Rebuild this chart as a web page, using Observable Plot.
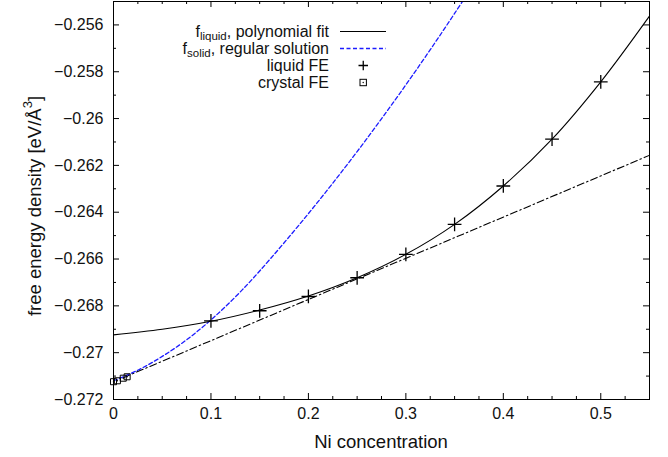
<!DOCTYPE html>
<html><head><meta charset="utf-8">
<script src="https://cdn.jsdelivr.net/npm/d3@7"></script>
<script src="https://cdn.jsdelivr.net/npm/@observablehq/plot@0.6"></script>
<style>body{margin:0;background:#fff;} svg{display:block}</style>
</head><body><div id="chart"></div>
<script>
// ---- data ----
const liquidX  = [0.1, 0.15, 0.2, 0.25, 0.3, 0.35, 0.4, 0.45, 0.5];
const liquidFE = [-0.26864, -0.26821, -0.26760, -0.26680, -0.26580, -0.26452, -0.26288, -0.26088, -0.25843];

const crystalX  = [0, 0.004, 0.01, 0.014];
const crystalFE = [-0.27124, -0.27120, -0.27109, -0.27103];

const fitX = [0, 0.05, 0.1, 0.15, 0.2, 0.25, 0.3, 0.35, 0.4, 0.45, 0.5, 0.55];
const fitY = [-0.26924, -0.26900, -0.26866, -0.26818, -0.26758, -0.26680, -0.26580, -0.26452, -0.26288, -0.26088, -0.25843, -0.25562];

const solidX = [0, 0.025, 0.05, 0.075, 0.1, 0.125, 0.15, 0.2, 0.25, 0.3, 0.35, 0.4];
const solidY = [-0.27120, -0.27075, -0.27016, -0.26945, -0.26860, -0.26762, -0.26651, -0.26406, -0.26141, -0.25856, -0.25551, -0.25226];

const tangentX = [0.01, 0.55];
const tangentY = [-0.27107, -0.26157];

const xTicks = [0, 0.1, 0.2, 0.3, 0.4, 0.5];
const xMinor = [0.025, 0.05, 0.075, 0.125, 0.15, 0.175, 0.225, 0.25, 0.275, 0.325, 0.35, 0.375, 0.425, 0.45, 0.475, 0.525];
const yTicks = [-0.272, -0.27, -0.268, -0.266, -0.264, -0.262, -0.26, -0.258, -0.256];
const yMinor = [-0.271, -0.269, -0.267, -0.265, -0.263, -0.261, -0.259, -0.257, -0.255];

const xLabel = "Ni concentration";
const yLabelMain = "free energy density [eV/Å";
const legendLabels = [
  ["f", "liquid", ", polynomial fit"],
  ["f", "solid", ", regular solution"],
  ["liquid FE", "", ""],
  ["crystal FE", "", ""]
];

// ---- layout ----
const W = 668, H = 457, mL = 113, mR = 19, mT = 1, mB = 58;
const plotW = W - mL - mR, plotH = H - mT - mB;
const FONT = "'Liberation Sans', Arial, Helvetica, sans-serif";
const fmt = d => (d < 0 ? "\u2212" : "") + (+Math.abs(d).toFixed(3));
const pts = (xs, ys) => xs.map((x, i) => ({x, y: ys[i]}));

const chart = Plot.plot({
  width: W, height: H,
  marginLeft: mL, marginRight: mR, marginTop: mT, marginBottom: mB,
  style: {fontFamily: FONT, fontSize: "16px", color: "#111", background: "#fff"},
  x: {domain: [0, 0.55]},
  y: {domain: [-0.272, -0.255]},
  marks: [
    Plot.axisX(xTicks, {tickSize: 0, tickPadding: 8, tickFormat: fmt, fontSize: 16, label: null}),
    Plot.axisY(yTicks, {tickSize: 0, tickPadding: 10, tickFormat: fmt, fontSize: 16, label: null}),
    // inward ticks on all four sides
    Plot.tickX(xTicks, {x: d => d, insetTop: plotH - 6, stroke: "black"}),
    Plot.tickX(xTicks, {x: d => d, insetBottom: plotH - 6, stroke: "black"}),
    Plot.tickX(xMinor, {x: d => d, insetTop: plotH - 3, stroke: "black"}),
    Plot.tickX(xMinor, {x: d => d, insetBottom: plotH - 3, stroke: "black"}),
    Plot.tickY(yTicks, {y: d => d, insetRight: plotW - 6, stroke: "black"}),
    Plot.tickY(yTicks, {y: d => d, insetLeft: plotW - 6, stroke: "black"}),
    Plot.tickY(yMinor, {y: d => d, insetRight: plotW - 3, stroke: "black"}),
    Plot.tickY(yMinor, {y: d => d, insetLeft: plotW - 3, stroke: "black"}),
    // curves
    Plot.line(pts(tangentX, tangentY), {x: "x", y: "y", stroke: "black", strokeWidth: 1.1, strokeDasharray: "7,3,1.5,3", clip: true}),
    Plot.line(pts(solidX, solidY), {x: "x", y: "y", curve: "catmull-rom", stroke: "#1c1cff", strokeWidth: 1.3, strokeDasharray: "4,2.5", clip: true}),
    Plot.line(pts(fitX, fitY), {x: "x", y: "y", curve: "catmull-rom", stroke: "black", strokeWidth: 1.1, clip: true}),
    // points
    Plot.dot(pts(liquidX, liquidFE), {x: "x", y: "y", symbol: "plus", r: 4.5, stroke: "black", strokeWidth: 1.3}),
    Plot.dot(pts(crystalX, crystalFE), {x: "x", y: "y", symbol: "square", r: 3.4, fill: "none", stroke: "black", strokeWidth: 1}),
    Plot.dot(pts(crystalX, crystalFE), {x: "x", y: "y", r: 0.7, fill: "black"}),
    Plot.frame({stroke: "black", strokeWidth: 1})
  ]
});
document.getElementById("chart").appendChild(chart);

// ---- axis titles and legend ----
const svg = d3.select(chart);
svg.append("text")
  .attr("x", mL + plotW / 2).attr("y", 448)
  .attr("text-anchor", "middle").attr("font-family", FONT).attr("font-size", 18.5).attr("fill", "#111")
  .text(xLabel);

const yl = svg.append("text")
  .attr("transform", "translate(36,206) rotate(-90)")
  .attr("text-anchor", "middle").attr("dominant-baseline", "middle")
  .attr("font-family", FONT).attr("font-size", 18.5).attr("fill", "#111");
yl.append("tspan").text(yLabelMain);
yl.append("tspan").attr("dy", -7).attr("font-size", 13).text("3");
yl.append("tspan").attr("dy", 7).text("]");

const legend = svg.append("g").attr("font-family", FONT).attr("font-size", 16).attr("fill", "#111");
const rowY = [31.5, 48.5, 65.5, 82.5];
legendLabels.forEach((lab, i) => {
  const t = legend.append("text").attr("x", 329).attr("y", rowY[i]).attr("dy", "0.35em").attr("text-anchor", "end");
  t.append("tspan").text(lab[0]);
  if (lab[1]) {
    t.append("tspan").attr("dy", 2.5).attr("font-size", 11.5).text(lab[1]);
    t.append("tspan").attr("dy", -2.5).text(lab[2]);
  }
});
legend.append("line").attr("x1", 340).attr("x2", 386).attr("y1", rowY[0]).attr("y2", rowY[0])
  .attr("stroke", "black").attr("stroke-width", 1.1);
legend.append("line").attr("x1", 340).attr("x2", 386).attr("y1", rowY[1]).attr("y2", rowY[1])
  .attr("stroke", "#1c1cff").attr("stroke-width", 1.3).attr("stroke-dasharray", "4,2.5");
legend.append("path").attr("d", `M358.5,${rowY[2]}h9.5M363.25,${rowY[2]-4.75}v9.5`)
  .attr("stroke", "black").attr("stroke-width", 1.3).attr("fill", "none");
legend.append("rect").attr("x", 360).attr("y", rowY[3] - 3.2).attr("width", 6.4).attr("height", 6.4)
  .attr("stroke", "black").attr("fill", "none");
legend.append("circle").attr("cx", 363.2).attr("cy", rowY[3]).attr("r", 0.7).attr("fill", "black");
</script>
</body></html>
